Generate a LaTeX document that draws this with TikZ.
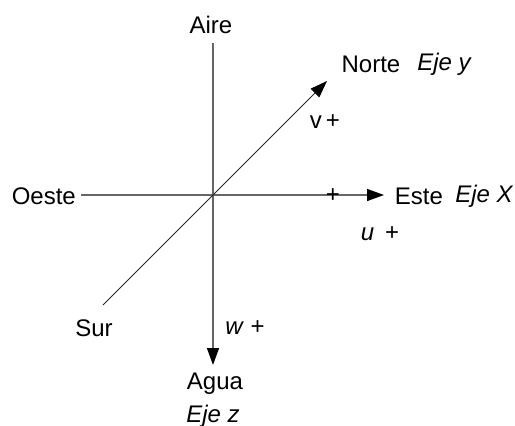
\documentclass[tikz,border=0pt]{standalone}
\usepackage{fontspec}
\setmainfont{Liberation Sans}
\usetikzlibrary{arrows.meta}
\begin{document}
\begin{tikzpicture}[x=1pt,y=-1pt,
  lbl/.style={inner sep=0pt,font=\fontsize{24}{28}\selectfont},
  ilbl/.style={lbl,font=\fontsize{24}{28}\selectfont\itshape},
  axis/.style={draw=black!60,line width=1.5pt},
  diag/.style={draw=black!85,line width=0.9pt},
  tip/.style={-{Triangle[length=17pt,width=12pt,color=black]}}]
\useasboundingbox (0,0) rectangle (515,426);
\coordinate (o) at (213,195);
\coordinate (top) at (213,43);
\coordinate (bot) at (213,365);
\coordinate (lft) at (81,195);
\coordinate (rgt) at (384,195);
\coordinate (sw) at (103,305);
\coordinate (ne) at (327,81);
\draw[axis] (top) -- (o);
\draw[axis,tip] (o) -- (bot);
\draw[axis] (lft) -- (o);
\draw[axis,tip] (o) -- (rgt);
\draw[diag] (sw) -- (o);
\draw[diag,tip] (o) -- (ne);
\node[lbl] (aire) at (211,25) {Aire};
\node[lbl,anchor=east] (oeste) at (76,196) {Oeste};
\node[lbl] (norte) at (371,64) {Norte};
\node[ilbl] (ejey) at (444,64) {Eje y};
\node[lbl] (vplus) at (325,122) {v\,+};
\node[lbl] (plus) at (333,196) {+};
\node[lbl] (este) at (419,196) {Este};
\node[ilbl] (ejex) at (484,196) {Eje X};
\node[lbl] (uplus) at (380,234) {\textit{u} \,+};
\node[lbl] (sur) at (94,328) {Sur};
\node[lbl] (wplus) at (245,328) {\textit{w} +};
\node[lbl] (agua) at (215,384) {Agua};
\node[ilbl] (ejez) at (213,416) {Eje z};
\end{tikzpicture}
\end{document}
